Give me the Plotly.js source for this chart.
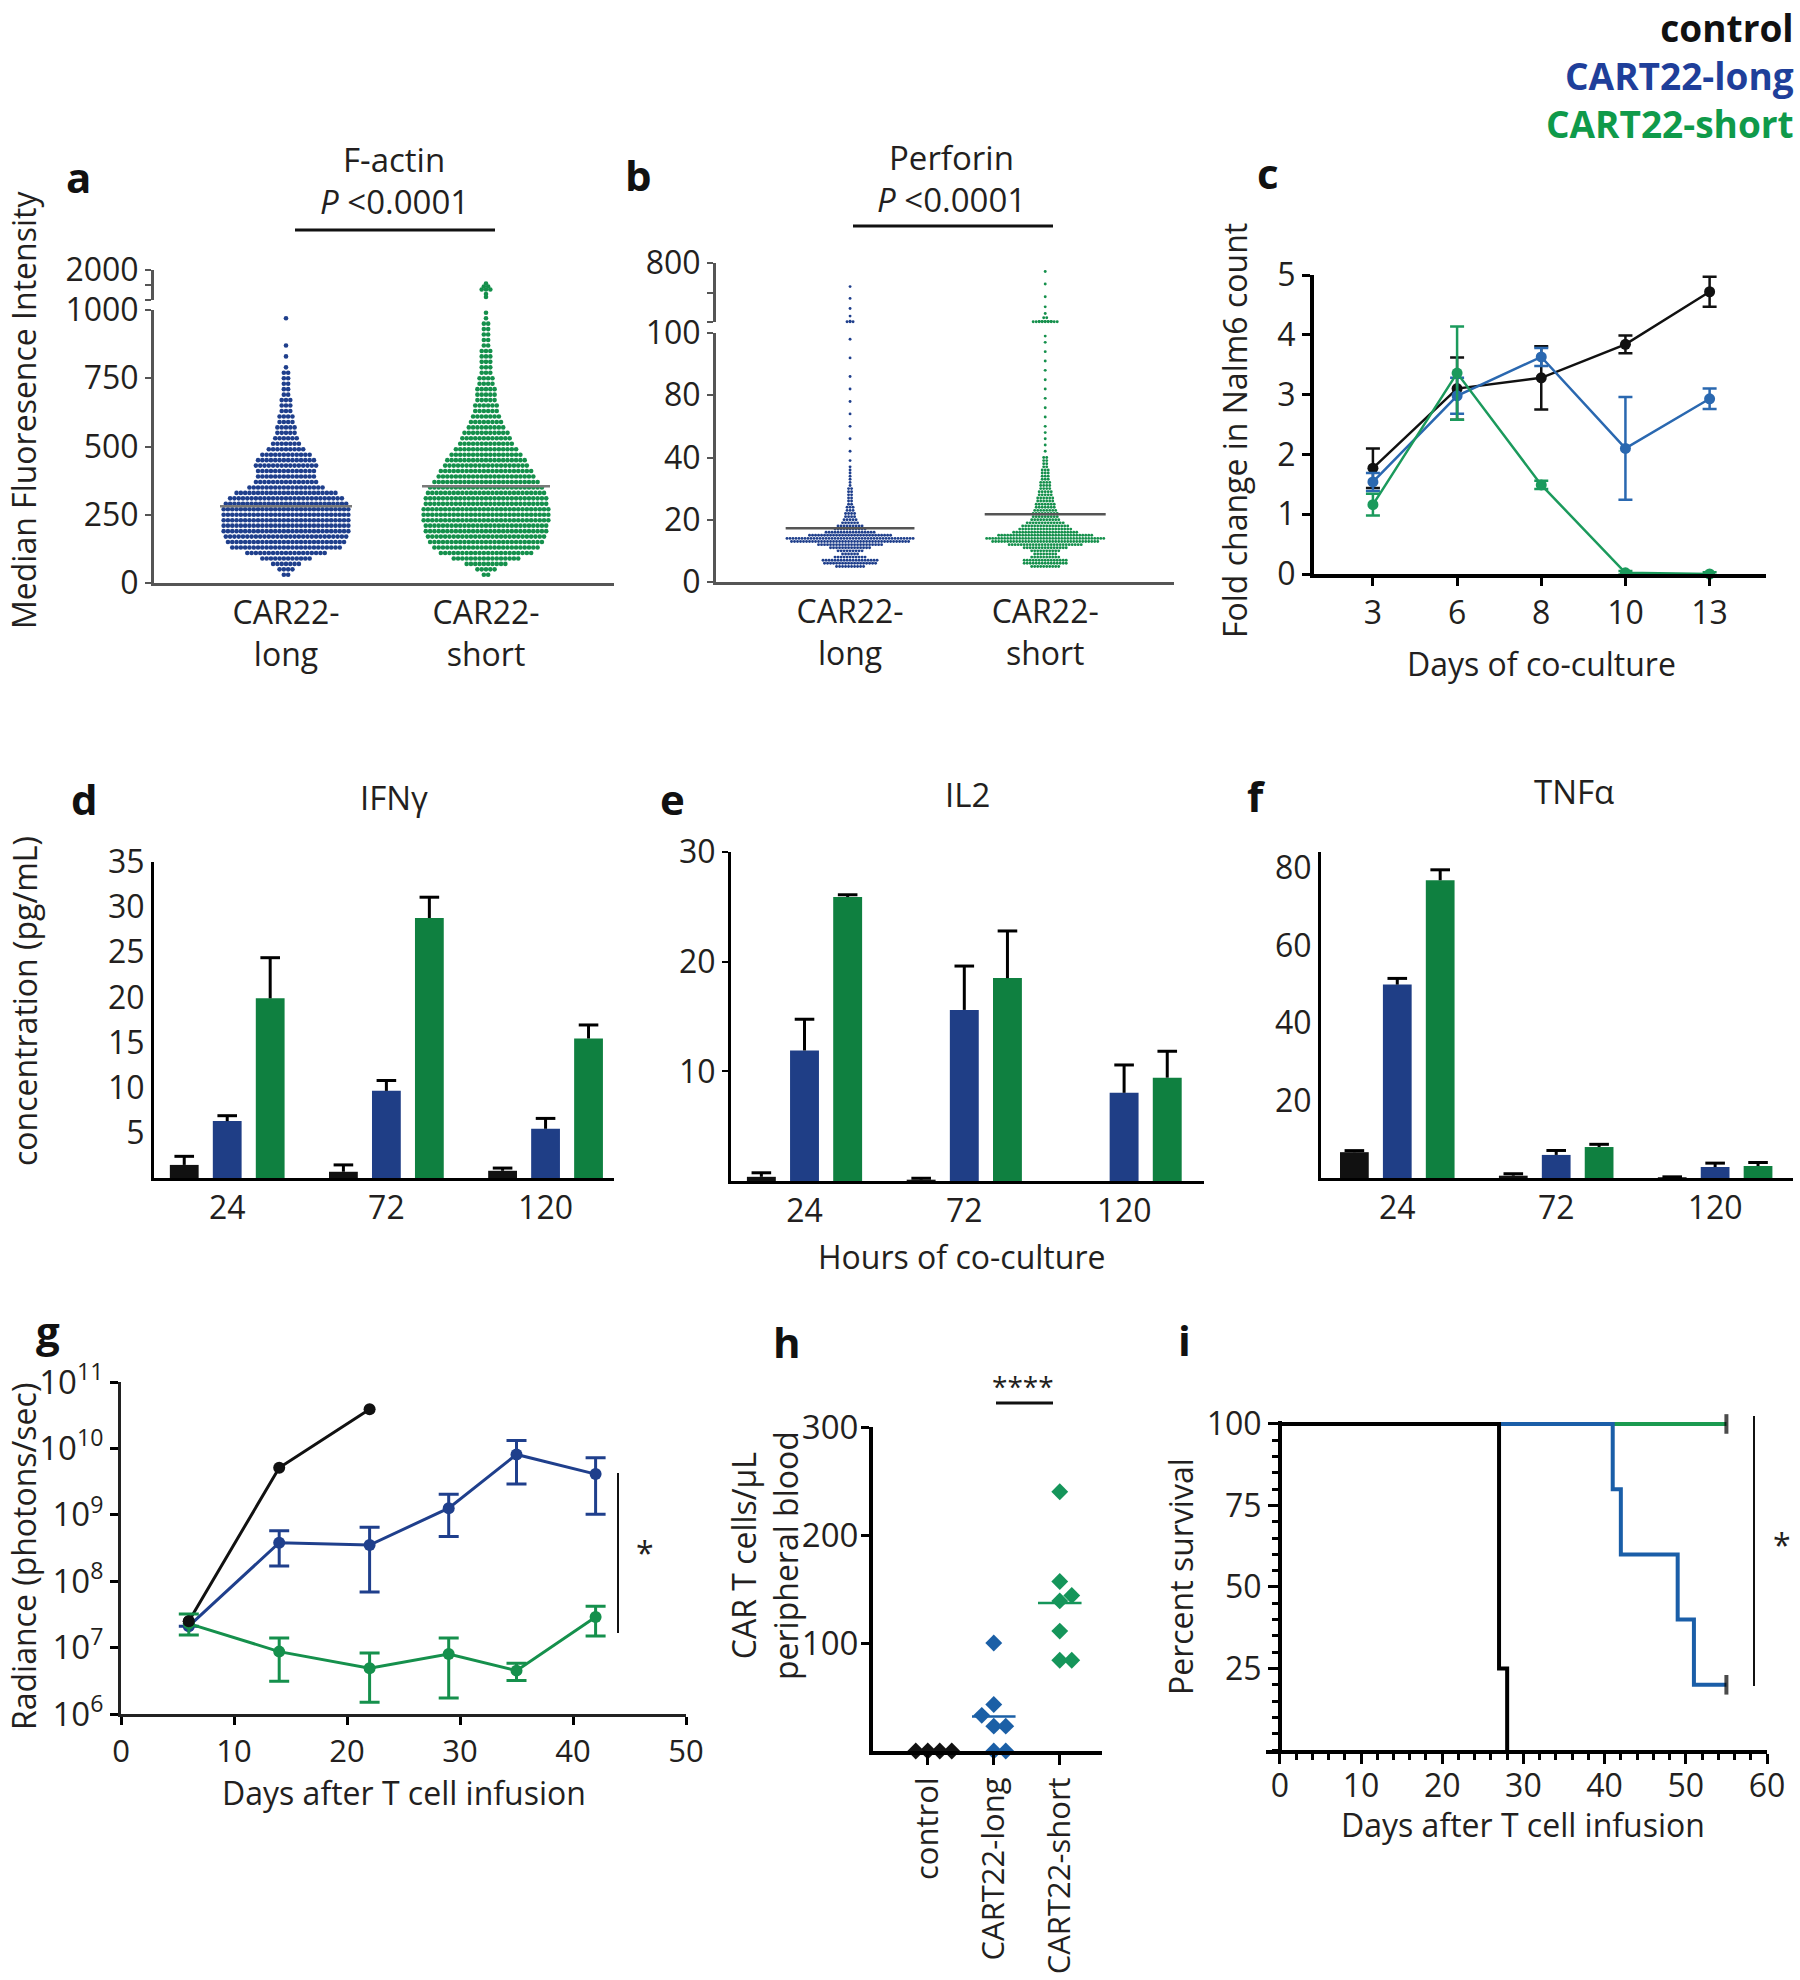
<!DOCTYPE html>
<html><head><meta charset="utf-8">
<script src="https://cdn.plot.ly/plotly-3.0.1.min.js"></script>
<style>html,body{margin:0;padding:0;background:#fff;} #chart{width:1800px;height:1980px;}</style>
</head><body><div id="chart"></div>
<script>
// ---------------- DATA ----------------
// Panel a: F-actin MFI, beeswarm as histogram rows (value -> number of cells)
const fActinGroups = ['CAR22-<br>long', 'CAR22-<br>short'];
const fActinBins = [30,50,70,90,110,130,150,170,190,210,230,250,270,290,310,330,350,370,390,410,430,450,470,490,510,530,550,570,590,610,630,650,670,690,710,730,750,770,790,810,830,850,870,890,910,930,950,970,990];
const fActinLongCounts  = [2,4,7,12,19,26,28,29,30,30,30,30,30,29,27,24,18,15,14,14,15,14,12,9,7,6,5,5,4,4,3,3,3,2,2,2,2,2,1,0,1,0,1,0,0,0,0,1,0];
const fActinShortCounts = [2,5,10,16,22,25,27,28,29,29,30,30,30,29,29,28,27,25,23,22,20,19,17,15,13,12,11,9,8,7,6,6,5,5,5,4,4,3,3,3,3,3,2,2,2,2,2,1,1];
const fActinShortUpperBins = [1100,1200,1350,1450,1550];
const fActinShortUpperCounts = [1,1,3,2,1];
const fActinMeans = [281, 354];

// Panel b: Perforin MFI (lower segment in axis units, upper segment 100-800)
const perforinBins = [5,6,7,8,9,10,11,12,13,14,15,16,17,18,19,20,21,22,23,24,25,26,27,28,29,30,31,32,33,34,35,36,37,38,39,40];
const perforinLongCounts  = [10,18,19,11,6,9,14,22,40,43,28,17,11,9,6,5,4,4,3,3,2,2,2,2,2,2,1,1,1,1,1,1,1,0,1,0];
const perforinShortCounts = [10,15,15,10,8,10,15,25,36,40,32,22,18,16,13,10,9,9,8,7,7,6,6,5,5,4,4,4,3,3,3,3,2,2,2,2];
const perforinLongTail  = [42,46,50,54,58,62,66,72,78];
const perforinShortTail = [42,44,46,48,50,53,56,59,62,65,68,71,74,77,79];
const perforinLongUpperBins = [103,110,170,260,380,520];
const perforinLongUpperCounts = [3,1,1,1,1,1];
const perforinShortUpperBins = [103,108,150,200,280,400,550,700];
const perforinShortUpperCounts = [9,5,2,1,1,1,1,1];
const perforinMeans = [17.3, 21.8];

// Panel c: fold change in Nalm6 count
const cDays = ['3','6','8','10','13'];
const cControl = [1.77, 3.10, 3.28, 3.84, 4.72];
const cControlErr = [0.33, 0.52, 0.53, 0.15, 0.25];
const cLong = [1.54, 2.98, 3.63, 2.10, 2.93];
const cLongErr = [0.15, 0.30, 0.15, 0.86, 0.17];
const cShort = [1.16, 3.36, 1.49, 0.02, 0.0];
const cShortErr = [0.18, 0.78, 0.07, 0.03, 0.03];
const cSig = ['', '', '**', '***', '***'];

// Panels d-f: cytokines (pg/mL) by hours of co-culture
const hours = ['24', '72', '120'];
const ifngControl = [1.45, 0.69, 0.80], ifngControlErr = [0.95, 0.76, 0.30];
const ifngLong    = [6.30, 9.65, 5.45], ifngLongErr    = [0.60, 1.15, 1.15];
const ifngShort   = [19.9, 28.8, 15.45], ifngShortErr  = [4.50, 2.30, 1.50];
const il2Control  = [0.38, 0.12, 0.0],  il2ControlErr  = [0.37, 0.13, 0.0];
const il2Long     = [11.9, 15.6, 8.04], il2LongErr     = [2.85, 4.00, 2.54];
const il2Short    = [25.9, 18.5, 9.42], il2ShortErr    = [0.20, 4.30, 2.41];
const tnfControl  = [6.67, 0.60, 0.20], tnfControlErr  = [0.40, 0.50, 0.10];
const tnfLong     = [49.95, 5.96, 2.84], tnfLongErr    = [1.60, 1.15, 1.00];
const tnfShort    = [76.9, 8.0, 3.1],   tnfShortErr    = [2.70, 0.70, 0.90];

// Panel g: radiance (photons/sec)
const gControlDays = [6, 14, 22];
const gControl = [2.5e7, 5.1e9, 3.9e10];
const gDays = [6, 14, 22, 29, 35, 42];
const gLong   = [2.1e7, 3.8e8, 3.5e8, 1.26e9, 8.1e9, 4.1e9];
const gLongHi = [2.1e7, 5.75e8, 6.5e8, 2.04e9, 1.32e10, 7.2e9];
const gLongLo = [2.1e7, 1.7e8, 6.9e7, 4.7e8, 2.9e9, 1.02e9];
const gShort   = [2.3e7, 8.7e6, 4.9e6, 8.0e6, 4.5e6, 2.9e7];
const gShortHi = [3.2e7, 1.4e7, 8.3e6, 1.4e7, 5.8e6, 4.2e7];
const gShortLo = [1.55e7, 3.1e6, 1.5e6, 1.74e6, 3.2e6, 1.5e7];

// Panel h: CAR T cells / uL peripheral blood
const hGroups = ['control', 'CART22-long', 'CART22-short'];
const hControl = [0, 0, 0, 0];
const hLong = [100, 43, 33, 23, 23, 0, 0];
const hShort = [240, 157, 144, 139, 111, 84, 84];
const hMedians = [0, 32, 137];

// Panel i: survival
const iControlT = [0, 27, 28],  iControlS = [100, 25, 0];
const iLongT = [0, 41, 42, 49, 51, 55], iLongS = [100, 80, 60, 40, 20, 20];
const iShortT = [0, 55], iShortS = [100, 100];

// ---------------- STYLE / HELPERS ----------------
const W = 1800, H = 1980;
const FONT = 'Open Sans, Liberation Sans, sans-serif';
const TXT = '#231f20';
const NAVY = '#1f3f8c', GREEN = '#15904c';
const BLUE_C = '#2a68b0', GREEN_C = '#1b9a5c';
const BAR_BLUE = '#1f3e86', BAR_GREEN = '#0f8040';
const XD = (a, b) => [a / W, b / W];
const YD = (top, bottom) => [1 - bottom / H, 1 - top / H];
const PX = x => x / W, PY = y => 1 - y / H;
const TF = s => ({family: FONT, size: s, color: TXT});

function axis(extra) {
  return Object.assign({
    showgrid: false, zeroline: false, showline: true, linecolor: '#000', linewidth: 3,
    ticks: 'outside', tickcolor: '#000', tickwidth: 2, ticklen: 6,
    tickfont: TF(32), fixedrange: true
  }, extra);
}

const traces = [];

// beeswarm rows from histogram counts
function rows(bins, counts, center, pxPerUnit, spacingPx) {
  const xs = [], ys = [];
  bins.forEach((v, i) => {
    const n = counts[i];
    for (let k = 0; k < n; k++) {
      xs.push(center + (k - (n - 1) / 2) * spacingPx / pxPerUnit);
      ys.push(v);
    }
  });
  return {x: xs, y: ys};
}
function dots(p, color, size, xa, ya) {
  traces.push({type: 'scatter', mode: 'markers', x: p.x, y: p.y, xaxis: xa, yaxis: ya,
    marker: {size: size, color: color, line: {width: 0}}, hoverinfo: 'skip', cliponaxis: false});
}
function meanLine(c, v, half, color, xa, ya) {
  traces.push({type: 'scatter', mode: 'lines', x: [c - half, c + half], y: [v, v], xaxis: xa, yaxis: ya,
    line: {color: color, width: 2.5}, hoverinfo: 'skip'});
}

// ---- Panel a ----
dots(rows(fActinBins, fActinLongCounts, 0, 200, 4.3), NAVY, 4.6, 'x', 'y');
dots(rows(fActinBins, fActinShortCounts, 1, 200, 4.3), GREEN, 4.6, 'x', 'y');
dots(rows(fActinShortUpperBins, fActinShortUpperCounts, 1, 200, 4.3), GREEN, 4.6, 'x', 'y2');
meanLine(0, fActinMeans[0], 0.33, '#7a7a7a', 'x', 'y');
meanLine(1, fActinMeans[1], 0.32, '#7a7a7a', 'x', 'y');

// ---- Panel b ----
const bPx = 195;
dots(rows(perforinBins, perforinLongCounts, 0, bPx, 3.0), NAVY, 2.9, 'x2', 'y3');
dots(rows(perforinBins, perforinShortCounts, 1, bPx, 3.0), GREEN, 2.9, 'x2', 'y3');
dots({x: perforinLongTail.map(() => 0), y: perforinLongTail}, NAVY, 2.9, 'x2', 'y3');
dots({x: perforinShortTail.map(() => 1), y: perforinShortTail}, GREEN, 2.9, 'x2', 'y3');
dots(rows(perforinLongUpperBins, perforinLongUpperCounts, 0, bPx, 3.0), NAVY, 2.9, 'x2', 'y4');
dots(rows(perforinShortUpperBins, perforinShortUpperCounts, 1, bPx, 3.0), GREEN, 2.9, 'x2', 'y4');
meanLine(0, perforinMeans[0], 0.33, '#555', 'x2', 'y3');
meanLine(1, perforinMeans[1], 0.31, '#555', 'x2', 'y3');

// ---- Panel c ----
[[cControl, cControlErr, '#111'], [cLong, cLongErr, BLUE_C], [cShort, cShortErr, GREEN_C]].forEach(([v, e, col]) => {
  traces.push({type: 'scatter', mode: 'lines+markers', x: cDays, y: v, xaxis: 'x3', yaxis: 'y5',
    line: {color: col, width: 2.5}, marker: {size: 11, color: col},
    error_y: {type: 'data', array: e, width: 7, thickness: 2.5, color: col}, cliponaxis: false});
});

// ---- Panels d, e, f ----
const BARGAP = 0.19, SLOT = (1 - BARGAP) / 3;
function barPanel(xa, ya, sets) {
  const cols = ['#111', BAR_BLUE, BAR_GREEN];
  sets.forEach(([v, e], k) => {
    traces.push({type: 'bar', x: hours.map((_, i) => i), y: v, xaxis: xa, yaxis: ya,
      marker: {color: cols[k], line: {width: 0}},
      error_y: {type: 'data', array: e, arrayminus: e.map(() => 0), symmetric: false, width: 0, thickness: 3, color: '#000'}});
    traces.push({type: 'scatter', mode: 'markers', xaxis: xa, yaxis: ya,
      x: hours.map((_, i) => i + (k - 1) * SLOT),
      y: v.map((y, i) => (e[i] > 0 ? y + e[i] : null)),
      marker: {symbol: 'line-ew', size: 14, color: '#000', line: {width: 3, color: '#000'}},
      hoverinfo: 'skip', cliponaxis: false});
  });
}
barPanel('x4', 'y6', [[ifngControl, ifngControlErr], [ifngLong, ifngLongErr], [ifngShort, ifngShortErr]]);
barPanel('x5', 'y7', [[il2Control, il2ControlErr], [il2Long, il2LongErr], [il2Short, il2ShortErr]]);
barPanel('x6', 'y8', [[tnfControl, tnfControlErr], [tnfLong, tnfLongErr], [tnfShort, tnfShortErr]]);

// ---- Panel g ----
traces.push({type: 'scatter', mode: 'lines+markers', x: gControlDays, y: gControl, xaxis: 'x7', yaxis: 'y9',
  line: {color: '#111', width: 3}, marker: {size: 12, color: '#111'}, cliponaxis: false});
[[gLong, gLongHi, gLongLo, NAVY], [gShort, gShortHi, gShortLo, GREEN]].forEach(([v, hi, lo, col]) => {
  traces.push({type: 'scatter', mode: 'lines+markers', x: gDays, y: v, xaxis: 'x7', yaxis: 'y9',
    line: {color: col, width: 3}, marker: {size: 12, color: col},
    error_y: {type: 'data', symmetric: false, array: hi.map((h, i) => h - v[i]), arrayminus: lo.map((l, i) => v[i] - l),
      width: 10, thickness: 3, color: col}, cliponaxis: false});
});
traces.push({type: 'scatter', mode: 'markers', x: gControlDays.slice(0, 1), y: gControl.slice(0, 1), xaxis: 'x7', yaxis: 'y9',
  marker: {size: 12, color: '#111'}, cliponaxis: false, hoverinfo: 'skip'});

// ---- Panel h ----
function swarmX(values, center, pxX, pxY, step, minDist) {
  const order = values.map((v, i) => i).sort((a, b) => values[a] - values[b]);
  const placed = [], xs = new Array(values.length);
  order.forEach(i => {
    const y = values[i] * pxY;
    for (let k = 0; k < 30; k++) {
      const off = k === 0 ? 0 : (k % 2 === 1 ? 1 : -1) * Math.ceil(k / 2) * step;
      if (placed.every(p => Math.hypot(p.x - off, p.y - y) >= minDist)) {
        placed.push({x: off, y: y}); xs[i] = center + off / pxX; break;
      }
    }
  });
  return xs;
}
[[hControl, '#111'], [hLong, '#1b5fa6'], [hShort, '#15955a']].forEach(([v, col], g) => {
  traces.push({type: 'scatter', mode: 'markers', x: swarmX(v, g, 66, 1.08, 12, 12), y: v, xaxis: 'x8', yaxis: 'y10',
    marker: {symbol: 'diamond', size: 13, color: col}, cliponaxis: false});
});
meanLine(1, hMedians[1], 0.33, '#1b5fa6', 'x8', 'y10');
meanLine(2, hMedians[2], 0.33, '#15955a', 'x8', 'y10');

// ---- Panel i ----
function endTicks(n) { return Array.from({length: n}, (_, i) => (i === n - 1 ? 14 : 0)); }
[[iShortT, iShortS, '#1a9a50'], [iLongT, iLongS, '#1a5ea8'], [iControlT, iControlS, '#000']].forEach(([t, s, col], k) => {
  traces.push({type: 'scatter', mode: k < 2 ? 'lines+markers' : 'lines', x: t, y: s, xaxis: 'x9', yaxis: 'y11',
    line: {color: col, width: 4, shape: 'hv'},
    marker: {symbol: 'line-ns', size: endTicks(t.length), color: '#000', line: {width: 4, color: '#000'}}, cliponaxis: false});
});

// ---------------- LAYOUT ----------------
const breakMinor = vals => ({tickvals: vals, ticks: 'outside', ticklen: 6, tickwidth: 2, tickcolor: '#555'});
const layout = {
  width: W, height: H, margin: {l: 0, r: 0, t: 0, b: 0}, showlegend: false,
  paper_bgcolor: '#fff', plot_bgcolor: 'rgba(0,0,0,0)',
  font: {family: FONT, color: TXT},
  barmode: 'group', bargap: BARGAP, bargroupgap: 0.33,
  // a
  xaxis: axis({domain: XD(154, 614), anchor: 'y', range: [-0.66, 1.64], tickvals: [0, 1], ticktext: fActinGroups,
    ticks: '', linecolor: '#555', tickfont: TF(32)}),
  yaxis: axis({domain: YD(310, 583), anchor: 'x', range: [0, 1000], tickvals: [0, 250, 500, 750, 1000],
    linecolor: '#555', tickcolor: '#555'}),
  yaxis2: axis({domain: YD(270, 300), anchor: 'x', range: [1000, 2000], tickvals: [2000],
    minor: breakMinor([1000, 1500]), linecolor: '#555', tickcolor: '#555'}),
  // b
  xaxis2: axis({domain: XD(716, 1174), anchor: 'y3', range: [-0.687, 1.66], tickvals: [0, 1], ticktext: fActinGroups,
    ticks: '', linecolor: '#555'}),
  yaxis3: axis({domain: YD(333, 582), anchor: 'x2', range: [0, 80], tickvals: [0, 20, 40, 60, 80], ticktext: ['0', '20', '40', '80', '100'],
    linecolor: '#555', tickcolor: '#555'}),
  yaxis4: axis({domain: YD(263, 322), anchor: 'x2', range: [100, 800], tickvals: [800],
    minor: breakMinor([100, 450]), linecolor: '#555', tickcolor: '#555'}),
  // c
  xaxis3: axis({domain: XD(1314, 1766), anchor: 'y5', type: 'category', range: [-0.7, 4.67], linewidth: 4, ticklen: 8, tickwidth: 3}),
  yaxis5: axis({domain: YD(275, 574), anchor: 'x3', range: [0, 5], dtick: 1, linewidth: 4, ticklen: 8, tickwidth: 3}),
  // d
  xaxis4: axis({domain: XD(154, 614), anchor: 'y6', range: [-0.46, 2.43], tickvals: [0, 1, 2], ticktext: hours, ticks: ''}),
  yaxis6: axis({domain: YD(862, 1178), anchor: 'x4', range: [0, 35], tickvals: [5, 10, 15, 20, 25, 30, 35], ticks: ''}),
  // e
  xaxis5: axis({domain: XD(731, 1204), anchor: 'y7', range: [-0.46, 2.5], tickvals: [0, 1, 2], ticktext: hours, ticks: ''}),
  yaxis7: axis({domain: YD(852, 1181), anchor: 'x5', range: [0, 30], tickvals: [10, 20, 30]}),
  // f
  xaxis6: axis({domain: XD(1321, 1793), anchor: 'y8', range: [-0.48, 2.49], tickvals: [0, 1, 2], ticktext: hours, ticks: ''}),
  yaxis8: axis({domain: YD(852, 1178), anchor: 'x6', range: [0, 84.2], tickvals: [20, 40, 60, 80], ticks: ''}),
  // g
  xaxis7: axis({domain: XD(121, 686), anchor: 'y9', range: [0, 50], tickvals: [0, 10, 20, 30, 40, 50], ticklen: 8, tickwidth: 3,
    linecolor: '#222', tickfont: TF(31)}),
  yaxis9: axis({domain: YD(1382, 1714), anchor: 'x7', type: 'log', range: [6, 11],
    tickvals: [1e6, 1e7, 1e8, 1e9, 1e10, 1e11],
    ticktext: ['10<sup>6</sup>', '10<sup>7</sup>', '10<sup>8</sup>', '10<sup>9</sup>', '10<sup>10</sup>', '10<sup>11</sup>'],
    ticklen: 8, tickwidth: 3, linecolor: '#222', tickfont: TF(33)}),
  // h
  xaxis8: axis({domain: XD(873, 1102), anchor: 'y10', range: [-0.83, 2.64], tickvals: [0, 1, 2], ticktext: hGroups,
    tickangle: -90, ticklen: 10, tickwidth: 3, linewidth: 4, tickfont: TF(31)}),
  yaxis10: axis({domain: YD(1427, 1751), anchor: 'x8', range: [0, 300], tickvals: [100, 200, 300], ticklen: 8, tickwidth: 3, linewidth: 4,
    tickfont: TF(33), ticklabelstandoff: -4}),
  // i
  xaxis9: axis({domain: XD(1266, 1767), anchor: 'y11', range: [-1.7, 60], tick0: 0, dtick: 10, ticklen: 10, tickwidth: 3, linewidth: 4,
    minor: {dtick: 2, tick0: 0, ticks: 'outside', ticklen: 6, tickwidth: 3, tickcolor: '#000'}, tickfont: TF(32), ticklabelstandoff: -5}),
  yaxis11: axis({domain: YD(1420.7, 1750), anchor: 'free', position: 1280 / W, range: [0, 101], tickvals: [25, 50, 75, 100],
    ticklen: 10, tickwidth: 3, linewidth: 4,
    minor: {dtick: 5, tick0: 0, ticks: 'outside', ticklen: 6, tickwidth: 3, tickcolor: '#000'}, tickfont: TF(32)}),
  annotations: [], shapes: []
};

function note(text, x, y, opts) {
  layout.annotations.push(Object.assign({text: text, x: PX(x), y: PY(y), xref: 'paper', yref: 'paper',
    showarrow: false, xanchor: 'center', yanchor: 'middle', font: TF(32)}, opts || {}));
}
function hline(x0, x1, y, w) {
  layout.shapes.push({type: 'line', xref: 'paper', yref: 'paper', x0: PX(x0), x1: PX(x1), y0: PY(y), y1: PY(y), line: {color: '#111', width: w}});
}
function vline(x, y0, y1, w) {
  layout.shapes.push({type: 'line', xref: 'paper', yref: 'paper', x0: PX(x), x1: PX(x), y0: PY(y0), y1: PY(y1), line: {color: '#111', width: w}});
}

// legend (one right-aligned block, one line per group)
note('<b><span style="color:#111">control</span><br><span style="color:#1f3f9a">CART22-long</span><br><span style="color:#0f9a4a">CART22-short</span></b>',
  1796, 0, {xanchor: 'right', yanchor: 'top', align: 'right', font: {family: FONT, size: 37, color: '#111'}});

// panel letters
const letterFont = {family: FONT, size: 42, color: '#111'};
[['a', 78, 176], ['b', 638, 174], ['c', 1268, 172], ['d', 84, 798], ['e', 672, 798], ['f', 1256, 795],
 ['g', 48, 1330], ['h', 787, 1341], ['i', 1184, 1339]].forEach(([t, x, y]) => note('<b>' + t + '</b>', x, y, {font: letterFont}));

// panel titles
note('F-actin', 394, 160, {font: TF(33)});
note('<i>P</i> &lt;0.0001', 394, 202, {font: TF(33)});
hline(295, 495, 230, 3);
note('Perforin', 952, 158, {font: TF(33)});
note('<i>P</i> &lt;0.0001', 952, 200, {font: TF(33)});
hline(853, 1053, 226, 3);
note('IFNγ', 394, 797, {font: TF(33)});
note('IL2', 967, 794, {font: TF(33)});
note('TNFα', 1574, 791, {font: TF(33)});

// axis titles
note('Median Fluoresence Intensity', 23, 410, {textangle: -90});
note('Fold change in Nalm6 count', 1234, 431, {textangle: -90});
note('Days of co-culture', 1541, 663);
note('concentration (pg/mL)', 24, 1001, {textangle: -90});
note('Hours of co-culture', 961, 1256);
note('Radiance (photons/sec)', 23, 1557, {textangle: -90});
note('Days after T cell infusion', 404, 1792);
note('CAR T cells/µL<br>peripheral blood', 764, 1556, {textangle: -90});
note('Percent survival', 1180, 1577, {textangle: -90});
note('Days after T cell infusion', 1523, 1824);

// significance marks
cSig.forEach((s, i) => {
  if (s) layout.annotations.push({text: s, x: cDays[i], y: cControl[i] + cControlErr[i], xref: 'x3', yref: 'y5',
    showarrow: false, yanchor: 'bottom', yshift: 4, font: TF(28)});
});
vline(618, 1473, 1633, 2);
note('*', 645, 1552, {font: TF(32)});
hline(996, 1053, 1403, 3);
note('****', 1023, 1386, {font: TF(28)});
vline(1754, 1416, 1686, 2);
note('*', 1782, 1544, {font: TF(32)});

Plotly.newPlot('chart', traces, layout, {staticPlot: true, displayModeBar: false});
</script></body></html>
